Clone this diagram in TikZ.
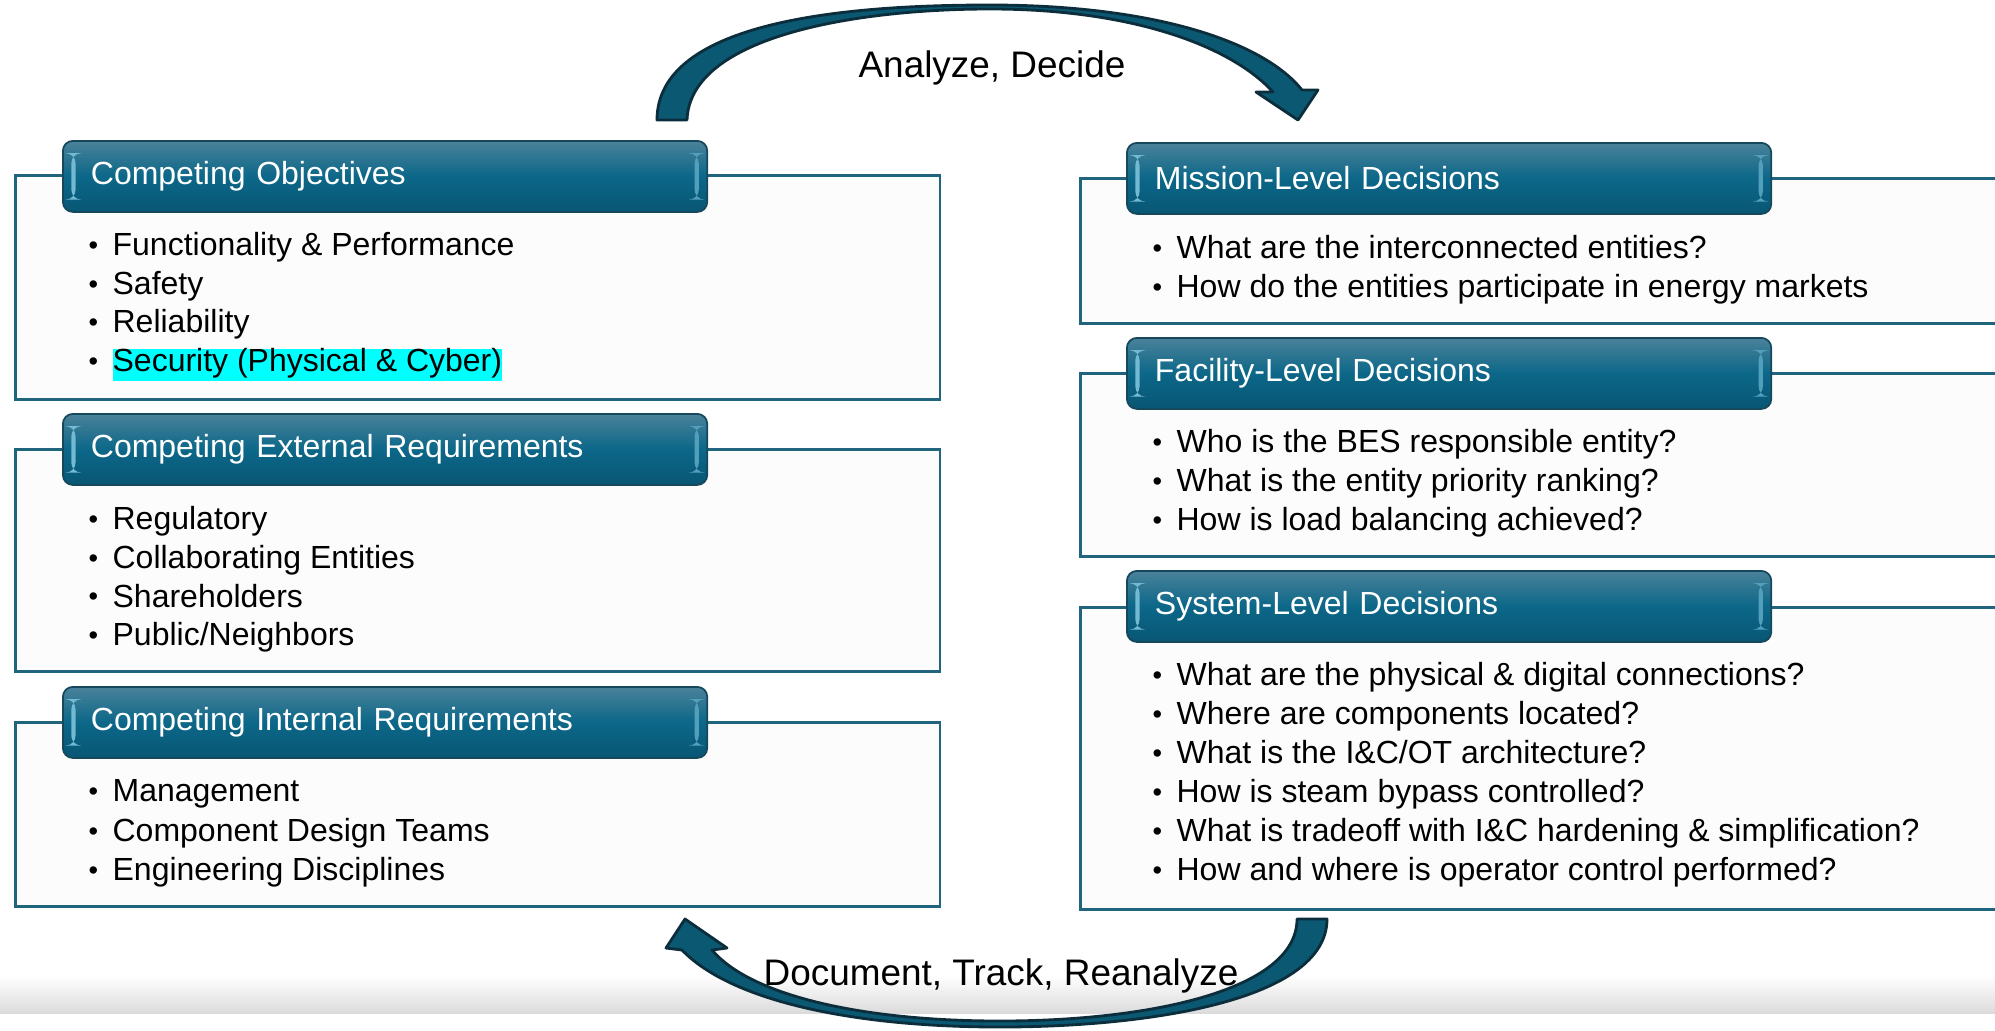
\documentclass[tikz,border=0pt]{standalone}
\usepackage{fontspec}
\setmainfont{Liberation Sans}
\usetikzlibrary{positioning}

\definecolor{hdtop}{RGB}{74,130,154}
\definecolor{hdmid}{RGB}{12,103,136}
\definecolor{hdbot}{RGB}{8,86,116}
\definecolor{hdline}{RGB}{22,72,92}
\definecolor{hdglow}{RGB}{140,205,228}
\definecolor{pnline}{RGB}{32,100,126}
\definecolor{pnfill}{RGB}{252,252,252}
\definecolor{arfill}{RGB}{10,88,114}
\definecolor{arline}{RGB}{12,46,60}
\definecolor{hilite}{RGB}{0,255,255}

\newcommand\itemfont{\fontsize{9.1}{10.95}\selectfont}
\newcommand\capfont{\fontsize{10.5}{12.6}\selectfont}
\newcommand\blt{\makebox[6.8pt][l]{\raisebox{0.3pt}{\scalebox{0.85}{•}}}}

\tikzset{
  panel/.style={draw=pnline, line width=0.8pt, fill=pnfill, anchor=north west, inner sep=0pt},
  header/.style={draw=hdline, line width=0.5pt, rounded corners=0.1cm,
    top color=hdtop, bottom color=hdbot, middle color=hdmid,
    minimum width=6.44cm, minimum height=0.71cm, text width=5.88cm, inner xsep=0.28cm,
    align=left, anchor=north west, text=white, font=\itemfont,
    path picture={
      \fill[hdglow!80!hdmid]
        ([xshift=2.4pt,yshift=-3.5pt]path picture bounding box.north west)
        rectangle ([xshift=3.6pt,yshift=3.5pt]path picture bounding box.south west);
      \fill[hdglow!55!hdmid]
        ([xshift=-3.6pt,yshift=-3.5pt]path picture bounding box.north east)
        rectangle ([xshift=-2.4pt,yshift=3.5pt]path picture bounding box.south east);
    }},
  item/.style={anchor=mid west, inner sep=0pt, font=\itemfont},
  bend arrow/.style={fill=arfill, draw=arline, line width=0.8pt, line join=round},
}

\begin{document}
\begin{tikzpicture}[x=0.01cm, y=-0.01cm]
\useasboundingbox (0,0) rectangle (1995,1030);
\clip (0,0) rectangle (1995,1030);

% footer band
\shade[top color=white, bottom color=black!14] (0,975) rectangle (1995,1013);

% left column
\node[panel, minimum width=9.24cm, minimum height=2.24cm] (objbox) at (14,174) {};
\node[header] (objhead) at (62,140) {Competing Objectives};
\foreach \txt [count=\i from 0] in {Functionality \& Performance, Safety, Reliability}
  \node[item] (obj\i) at (88,{246.5+38.6*\i}) {\blt\txt};
\node[item] (obj3) at (88,362.5) {\blt{\setlength\fboxsep{0pt}\colorbox{hilite}{\rule[-2.6pt]{0pt}{9.1pt}Security (Physical \& Cyber)}}};

\node[panel, minimum width=9.24cm, minimum height=2.22cm] (extbox) at (14,448) {};
\node[header] (exthead) at (62,413) {Competing External Requirements};
\foreach \txt [count=\i from 0] in {Regulatory, Collaborating Entities, Shareholders, Public/Neighbors}
  \node[item] (ext\i) at (88,{520.5+38.6*\i}) {\blt\txt};

\node[panel, minimum width=9.24cm, minimum height=1.84cm] (intbox) at (14,721) {};
\node[header] (inthead) at (62,686) {Competing Internal Requirements};
\foreach \txt [count=\i from 0] in {Management, Component Design Teams, Engineering Disciplines}
  \node[item] (int\i) at (88,{792.5+39.5*\i}) {\blt\txt};

% right column
\node[panel, minimum width=9.6cm, minimum height=1.45cm] (misbox) at (1079,177) {};
\node[header] (mishead) at (1126,142) {Mission-Level Decisions};
\foreach \txt [count=\i from 0] in {What are the interconnected entities?,
    How do the entities participate in energy markets}
  \node[item] (mis\i) at (1152,{249.5+38.6*\i}) {\blt\txt};

\node[panel, minimum width=9.6cm, minimum height=1.83cm] (facbox) at (1079,372) {};
\node[header] (fachead) at (1126,337) {Facility-Level Decisions};
\foreach \txt [count=\i from 0] in {Who is the BES responsible entity?,
    What is the entity priority ranking?, How is load balancing achieved?}
  \node[item] (fac\i) at (1152,{443.5+38.9*\i}) {\blt\txt};

\node[panel, minimum width=9.6cm, minimum height=3.02cm] (sysbox) at (1079,606) {};
\node[header] (syshead) at (1126,570) {System-Level Decisions};
\foreach \txt [count=\i from 0] in {What are the physical \& digital connections?,
    Where are components located?, What is the I\&C/OT architecture?,
    How is steam bypass controlled?, What is tradeoff with I\&C hardening \& simplification?,
    How and where is operator control performed?}
  \node[item] (sys\i) at (1152,{676.5+39*\i}) {\blt\txt};

% loop arrows
\draw[bend arrow] (657,120) .. controls (657,20) and (850,5) .. (990,5)
  .. controls (1150,5) and (1262,40) .. (1302,90) -- (1318,90) -- (1298,120)
  -- (1256,92) -- (1273,92) .. controls (1230,45) and (1130,9) .. (990,9)
  .. controls (860,9) and (690,35) .. (687,120) -- cycle;
\node[font=\capfont] (topcap) at (992,68) {Analyze, Decide};

\draw[bend arrow] (1327,919) .. controls (1327,1000) and (1150,1027) .. (1000,1027)
  .. controls (850,1027) and (730,1000) .. (682,950) -- (666,948) -- (685,919)
  -- (727,948) -- (712,950) .. controls (750,995) and (860,1021) .. (1000,1021)
  .. controls (1150,1021) and (1297,990) .. (1297,919) -- cycle;
\node[font=\capfont] (botcap) at (1001,976) {Document, Track, Reanalyze};
\end{tikzpicture}
\end{document}
